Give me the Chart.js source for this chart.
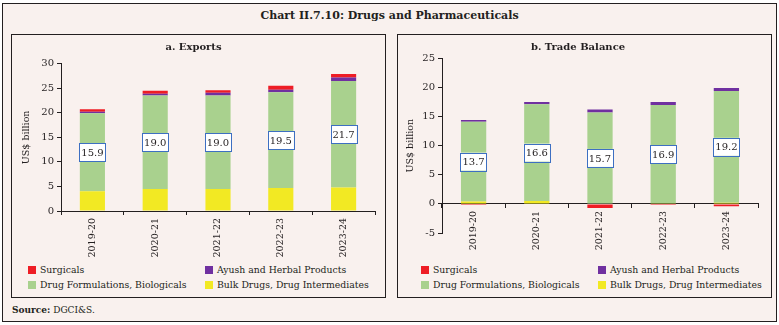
<!DOCTYPE html>
<html>
<head>
<meta charset="utf-8">
<script src="https://cdn.jsdelivr.net/npm/chart.js@4"></script>
<style>
  body { margin: 0; background: #ffffff; font-family: "DejaVu Serif", serif; color: #231f20; }
  #frame { position: absolute; left: 2px; top: 3px; width: 773px; height: 317px; border: 1px solid #231f20; background: #f9f1ee; }
  #title { position: absolute; left: 0; width: 779px; top: 9px; text-align: center; font-weight: bold; font-size: 11px; }
  .panel { position: absolute; top: 34px; width: 373px; height: 262px; border: 1px solid #231f20; }
  .cv { position: absolute; left: 0; top: 0; width: 373px; height: 228px; }
  .item { position: absolute; font-size: 9.3px; white-space: nowrap; line-height: 12px; }
  .mark { position: absolute; width: 8px; height: 8px; }
  #source { position: absolute; left: 12px; top: 305px; font-size: 9px; }
</style>
</head>
<body>
<div id="frame"></div>
<div id="title">Chart II.7.10: Drugs and Pharmaceuticals</div>
<div class="panel" id="panelA" style="left:11px"><div class="cv"><canvas id="exportsChart"></canvas></div></div>
<div class="panel" id="panelB" style="left:397px"><div class="cv"><canvas id="balanceChart"></canvas></div></div>
<div id="source"><b>Source:</b> DGCI&amp;S.</div>
<script>
const years = ["2019-20", "2020-21", "2021-22", "2022-23", "2023-24"];

// a. Exports (US$ billion)
const expBulk = [4.0, 4.5, 4.5, 4.7, 4.8];
const expFormulations = [15.9, 19.0, 19.0, 19.5, 21.7];
const expAyush = [0.3, 0.4, 0.6, 0.5, 0.7];
const expSurgicals = [0.5, 0.6, 0.5, 0.8, 0.7];

// b. Trade Balance (US$ billion)
const balBulk = [0.4, 0.5, -0.1, 0.1, 0.2];
const balFormulations = [13.7, 16.6, 15.7, 16.9, 19.2];
const balAyush = [0.3, 0.4, 0.5, 0.5, 0.5];
const balSurgicals = [-0.2, -0.1, -0.6, -0.2, -0.4];

const expTicks = [0, 5, 10, 15, 20, 25, 30];
const balTicks = [-5, 0, 5, 10, 15, 20, 25];

const colBulk = '#f2e923';
const colForm = '#a9d18e';
const colAyush = '#7030a0';
const colSurg = '#ee1d25';
const ink = '#231f20';

Chart.defaults.font.family = '"DejaVu Serif", serif';
Chart.defaults.font.size = 9.5;
Chart.defaults.color = ink;
Chart.defaults.animation = false;

// boxed value label in the middle of the formulations segment
const boxLabels = {
    id: 'boxLabels',
    afterDatasetsDraw(chart) {
        const ctx = chart.ctx;
        const meta = chart.getDatasetMeta(1);
        const vals = chart.data.datasets[1].data;
        ctx.save();
        meta.data.forEach((bar, i) => {
            const p = bar.getProps(['x', 'y', 'base', 'width'], true);
            const cy = (p.y + p.base) / 2;
            const w = p.width + 1, h = 18;
            ctx.fillStyle = '#ffffff';
            ctx.fillRect(p.x - w / 2, cy - h / 2, w, h);
            ctx.strokeStyle = '#3d6fc2';
            ctx.lineWidth = 1;
            ctx.strokeRect(Math.round(p.x - w / 2) + 0.5, Math.round(cy - h / 2) + 0.5, Math.round(w), h);
            ctx.fillStyle = ink;
            ctx.font = '10px "DejaVu Serif"';
            ctx.textAlign = 'center';
            ctx.textBaseline = 'middle';
            ctx.fillText(vals[i].toFixed(1), p.x, cy + 1);
        });
        ctx.restore();
    }
};

function makeDatasets(bulk, form, ayush, surg) {
    return [
        { label: 'Bulk Drugs, Drug Intermediates', data: bulk, backgroundColor: colBulk },
        { label: 'Drug Formulations, Biologicals', data: form, backgroundColor: colForm },
        { label: 'Ayush and Herbal Products', data: ayush, backgroundColor: colAyush },
        { label: 'Surgicals', data: surg, backgroundColor: colSurg }
    ];
}

function makeChart(id, title, datasets, ticks, yWidth, titlePadBottom, padRight, yTitlePad, zeroAxis) {
    const ctx = document.getElementById(id).getContext('2d');
    return new Chart(ctx, {
        type: 'bar',
        data: { labels: years, datasets: datasets },
        options: {
            responsive: true,
            maintainAspectRatio: false,
            datasets: { bar: { categoryPercentage: 1, barPercentage: 0.4 } },
            layout: { padding: { left: 0, right: padRight, top: 0, bottom: zeroAxis ? 30 : 4 } },
            plugins: {
                legend: { display: false },
                tooltip: { enabled: false },
                title: {
                    display: true, text: title,
                    font: { size: 10, weight: 'bold' },
                    padding: { top: 6, bottom: titlePadBottom }
                }
            },
            scales: {
                x: {
                    stacked: true,
                    position: zeroAxis ? { y: 0 } : 'bottom',
                    afterFit(s) { s.height = zeroAxis ? 0 : 48; },
                    border: { display: true, color: ink },
                    grid: { offset: true, drawOnChartArea: false, color: ink, tickLength: 4 },
                    ticks: { minRotation: 90, maxRotation: 90, padding: 3, font: { size: 9.5 } }
                },
                y: {
                    stacked: true,
                    min: ticks[0], max: ticks[ticks.length - 1],
                    afterBuildTicks(s) { s.ticks = ticks.map(v => ({ value: v })); },
                    afterFit(s) { s.width = yWidth; },
                    border: { display: true, color: ink },
                    grid: { drawOnChartArea: false, color: ink, tickLength: 4 },
                    ticks: { padding: 3, font: { size: 10 } },
                    title: { display: true, text: 'US$ billion', font: { size: 9.5 }, padding: { top: yTitlePad, bottom: 2 } }
                }
            }
        },
        plugins: [boxLabels]
    });
}

const chartA = makeChart('exportsChart', 'a. Exports',
    makeDatasets(expBulk, expFormulations, expAyush, expSurgicals), expTicks, 49, 10.7, 10, 9, false);
const chartB = makeChart('balanceChart', 'b. Trade Balance',
    makeDatasets(balBulk, balFormulations, balAyush, balSurgicals), balTicks, 44, 5.3, 13, 7, true);

// legend in two columns
function buildLegend(panelId, chart, x0) {
    const panel = document.getElementById(panelId);
    const order = [3, 2, 1, 0];
    order.forEach((di, i) => {
        const ds = chart.data.datasets[di];
        const col = i % 2, row = Math.floor(i / 2);
        const left = x0 + col * 177;
        const top = 229 + row * 15;
        const m = document.createElement('div');
        m.className = 'mark';
        m.style.left = left + 'px';
        m.style.top = (top + 2) + 'px';
        m.style.background = ds.backgroundColor;
        panel.appendChild(m);
        const t = document.createElement('div');
        t.className = 'item';
        t.style.left = (left + 12) + 'px';
        t.style.top = top + 'px';
        t.textContent = ds.label;
        panel.appendChild(t);
    });
}
buildLegend('panelA', chartA, 16);
buildLegend('panelB', chartB, 23);
</script>
</body>
</html>
